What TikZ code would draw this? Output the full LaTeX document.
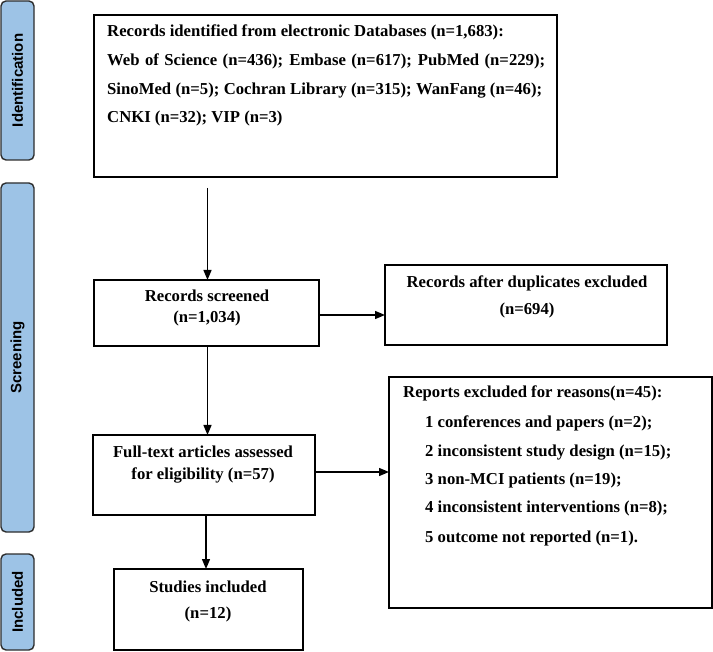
\documentclass[tikz,border=0pt]{standalone}
\usepackage{fontspec}
\setmainfont{Liberation Serif}
\setsansfont{Liberation Sans}
\usetikzlibrary{arrows.meta}
\definecolor{phasefill}{RGB}{157,195,230}
\definecolor{phaseline}{RGB}{45,45,45}
\begin{document}
\begin{tikzpicture}[x=1pt,y=-1pt,
  box/.style={draw=black,line width=1.2pt,inner sep=0pt,outer sep=0pt},
  phasebox/.style={draw=phaseline,fill=phasefill,line width=1.4pt,rounded corners=5pt,inner sep=0pt,outer sep=0pt},
  phasetext/.style={font=\sffamily\bfseries\fontsize{15}{17}\selectfont,rotate=90,inner sep=0pt},
  txt/.style={font=\bfseries\fontsize{16.7}{19}\selectfont,inner sep=0pt,text height=11pt,text depth=3pt},
  arr/.style={line width=1.4pt,-{Triangle[length=10pt,width=8pt]}}
]
\useasboundingbox (0,0) rectangle (713,652);

% phase labels
\node[phasebox,minimum width=33pt,minimum height=159pt] (pid) at (17.5,80.5) {};
\node[phasetext] (tid) at (pid.center) {Identification};
\node[phasebox,minimum width=33pt,minimum height=349pt] (psc) at (17.5,357.5) {};
\node[phasetext] (tsc) at (psc.center) {Screening};
\node[phasebox,minimum width=33pt,minimum height=96pt] (pin) at (17.5,602) {};
\node[phasetext] (tin) at (pin.center) {Included};

% boxes
\node[box,minimum width=463pt,minimum height=162pt] (top) at (325.5,96) {};
\node[box,minimum width=225pt,minimum height=66pt] (scr) at (206.5,313) {};
\node[box,minimum width=282pt,minimum height=80pt] (dup) at (526,305) {};
\node[box,minimum width=222pt,minimum height=80pt] (ft) at (204,475) {};
\node[box,minimum width=323pt,minimum height=231pt] (rep) at (550.5,492.5) {};
\node[box,minimum width=189pt,minimum height=81pt] (stu) at (208.5,609.5) {};

% top box text
\node[txt,anchor=west] (t1) at (107,33) {Records identified from electronic Databases (n=1,683):};
\node[txt,anchor=west] (t2) at (107,62) {\makebox[438pt][s]{Web of Science (n=436); Embase (n=617); PubMed (n=229);}};
\node[txt,anchor=west] (t3) at (107,91) {\makebox[435pt][s]{SinoMed (n=5); Cochran Library (n=315); WanFang (n=46);}};
\node[txt,anchor=west] (t4) at (107,119) {CNKI (n=32); VIP (n=3)};

% other texts
\node[txt] (s1) at (207,298) {Records screened};
\node[txt] (s2) at (207,319) {(n=1,034)};
\node[txt] (d1) at (527,284) {Records after duplicates excluded};
\node[txt] (d2) at (527,311) {(n=694)};
\node[txt] (f1) at (203,454) {Full-text articles assessed};
\node[txt] (f2) at (203,475) {for eligibility (n=57)};
\node[txt] (u1) at (208,588) {Studies included};
\node[txt] (u2) at (208,614) {(n=12)};

\node[txt,anchor=west] (r0) at (403,394) {Reports excluded for reasons(n=45):};
\node[txt,anchor=west] (r1) at (425,424) {1 conferences and papers (n=2);};
\node[txt,anchor=west] (r2) at (425,453) {2 inconsistent study design (n=15);};
\node[txt,anchor=west] (r3) at (425,481) {3 non-MCI patients (n=19);};
\node[txt,anchor=west] (r4) at (425,509) {4 inconsistent interventions (n=8);};
\node[txt,anchor=west] (r5) at (425,538) {5 outcome not reported (n=1).};

% connectors
\coordinate (a0) at (207.5,188);
\draw[arr] (a0) -- (a0 |- scr.north);
\draw[arr] ([yshift=-2pt]scr.east) -- ([yshift=-2pt]scr.east -| dup.west);
\draw[arr] ([xshift=1pt]scr.south) -- ([xshift=1pt]scr.south |- ft.north);
\draw[arr] ([yshift=3pt]ft.east) -- ([yshift=3pt]ft.east -| rep.west);
\draw[arr] ([xshift=2pt]ft.south) -- ([xshift=2pt]ft.south |- stu.north);
\end{tikzpicture}
\end{document}
